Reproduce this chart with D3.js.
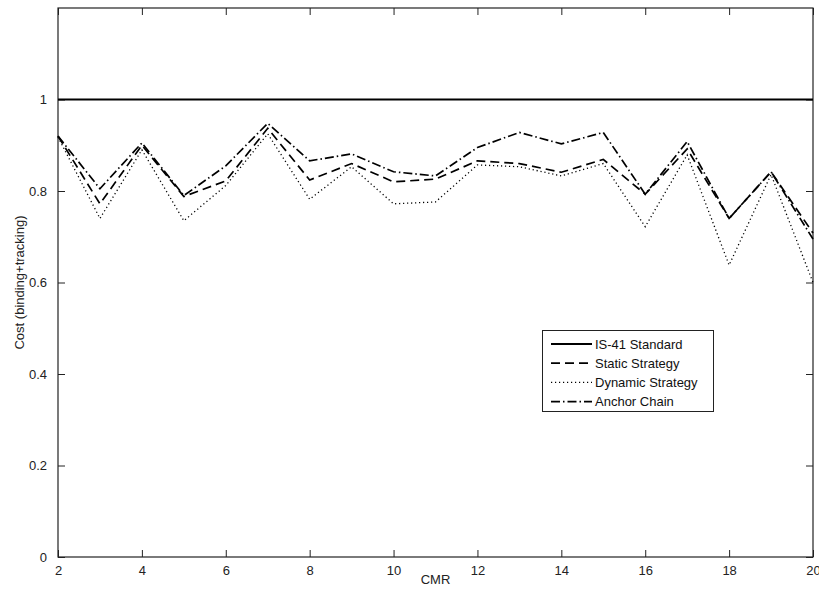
<!DOCTYPE html>
<html>
<head>
<meta charset="utf-8">
<script src="https://cdn.jsdelivr.net/npm/d3@7"></script>
<style>
  body { margin: 0; background: #fff; }
  text { font-family: "Liberation Sans", Arial, sans-serif; }
</style>
</head>
<body>
<div id="chart"></div>
<script>
// données
const cmr = [2, 3, 4, 5, 6, 7, 8, 9, 10, 11, 12, 13, 14, 15, 16, 17, 18, 19, 20];
const is41 = [1, 1, 1, 1, 1, 1, 1, 1, 1, 1, 1, 1, 1, 1, 1, 1, 1, 1, 1];
const staticStrat = [0.92, 0.772, 0.9, 0.788, 0.822, 0.937, 0.824, 0.86, 0.82, 0.826, 0.866, 0.86, 0.841, 0.869, 0.793, 0.892, 0.74, 0.842, 0.708];
const dynamicStrat = [0.918, 0.74, 0.89, 0.735, 0.812, 0.925, 0.782, 0.853, 0.772, 0.776, 0.857, 0.853, 0.833, 0.86, 0.722, 0.879, 0.638, 0.836, 0.6];
const anchorChain = [0.92, 0.805, 0.905, 0.79, 0.855, 0.948, 0.866, 0.881, 0.842, 0.833, 0.895, 0.928, 0.903, 0.928, 0.793, 0.908, 0.74, 0.842, 0.695];
const xTicks = [2, 4, 6, 8, 10, 12, 14, 16, 18, 20];
const yTicks = [0, 0.2, 0.4, 0.6, 0.8, 1];

const seriesNames = ["IS-41 Standard", "Static Strategy", "Dynamic Strategy", "Anchor Chain"];
const seriesValues = [is41, staticStrat, dynamicStrat, anchorChain];
const dashes = [null, "9,5", "1.2,2.8", "9,3,1.5,3"];
const widths = [2.2, 1.7, 1.3, 1.7];

const W = 819, H = 592;
const mLeft = 58, mRight = 813, mTop = 8, mBottom = 557;

const svg = d3.select("#chart").append("svg")
  .attr("width", W).attr("height", H);

const x = d3.scaleLinear().domain([2, 20]).range([mLeft, mRight]);
const y = d3.scaleLinear().domain([0, 1.2]).range([mBottom, mTop]);

// axes (ticks vers l'intérieur, comme matlab)
const tickLen = 7;
const axisStyle = g => {
  g.select(".domain").remove();
  g.selectAll("line").attr("stroke", "#222");
  g.selectAll("text").attr("font-size", "13px").attr("fill", "#222");
};

svg.append("g")
  .attr("transform", `translate(0,${mBottom})`)
  .call(d3.axisBottom(x).tickValues(xTicks).tickSizeInner(-tickLen).tickSizeOuter(0).tickPadding(tickLen + 2))
  .call(axisStyle);

svg.append("g")
  .attr("transform", `translate(0,${mTop})`)
  .call(d3.axisTop(x).tickValues(xTicks).tickSizeInner(-tickLen).tickSizeOuter(0).tickFormat(""))
  .call(axisStyle);

svg.append("g")
  .attr("transform", `translate(${mLeft},0)`)
  .call(d3.axisLeft(y).tickValues(yTicks).tickSizeInner(-tickLen).tickSizeOuter(0).tickPadding(tickLen + 4).tickFormat(d3.format("")))
  .call(axisStyle);

svg.append("g")
  .attr("transform", `translate(${mRight},0)`)
  .call(d3.axisRight(y).tickValues(yTicks).tickSizeInner(-tickLen).tickSizeOuter(0).tickFormat(""))
  .call(axisStyle);

// cadre
svg.append("rect")
  .attr("x", mLeft).attr("y", mTop)
  .attr("width", mRight - mLeft).attr("height", mBottom - mTop)
  .attr("fill", "none").attr("stroke", "#222").attr("stroke-width", 1.2);

// courbes
const line = d3.line()
  .x((d, i) => x(cmr[i]))
  .y(d => y(d));

for (let k = 0; k < seriesValues.length; k++) {
  svg.append("path")
    .datum(seriesValues[k])
    .attr("d", line)
    .attr("fill", "none")
    .attr("stroke", "#000")
    .attr("stroke-width", widths[k])
    .attr("stroke-dasharray", dashes[k]);
}

// titres des axes
svg.append("text")
  .attr("x", (mLeft + mRight) / 2).attr("y", 584)
  .attr("text-anchor", "middle").attr("font-size", "13px").attr("fill", "#222")
  .text("CMR");

svg.append("text")
  .attr("transform", `translate(24,${(mTop + mBottom) / 2}) rotate(-90)`)
  .attr("text-anchor", "middle").attr("font-size", "13px").attr("fill", "#222")
  .text("Cost (binding+tracking)");

// légende
const legend = svg.append("g");
legend.append("rect")
  .attr("x", 542.5).attr("y", 330.5)
  .attr("width", 171).attr("height", 81)
  .attr("fill", "#fff").attr("stroke", "#222").attr("stroke-width", 1);

seriesNames.forEach((name, k) => {
  const ly = 344 + k * 19.2;
  legend.append("line")
    .attr("x1", 551).attr("x2", 592)
    .attr("y1", ly).attr("y2", ly)
    .attr("stroke", "#000")
    .attr("stroke-width", widths[k])
    .attr("stroke-dasharray", dashes[k]);
  legend.append("text")
    .attr("x", 595).attr("y", ly + 4.5)
    .attr("font-size", "13px").attr("fill", "#111")
    .text(name);
});
</script>
</body>
</html>
